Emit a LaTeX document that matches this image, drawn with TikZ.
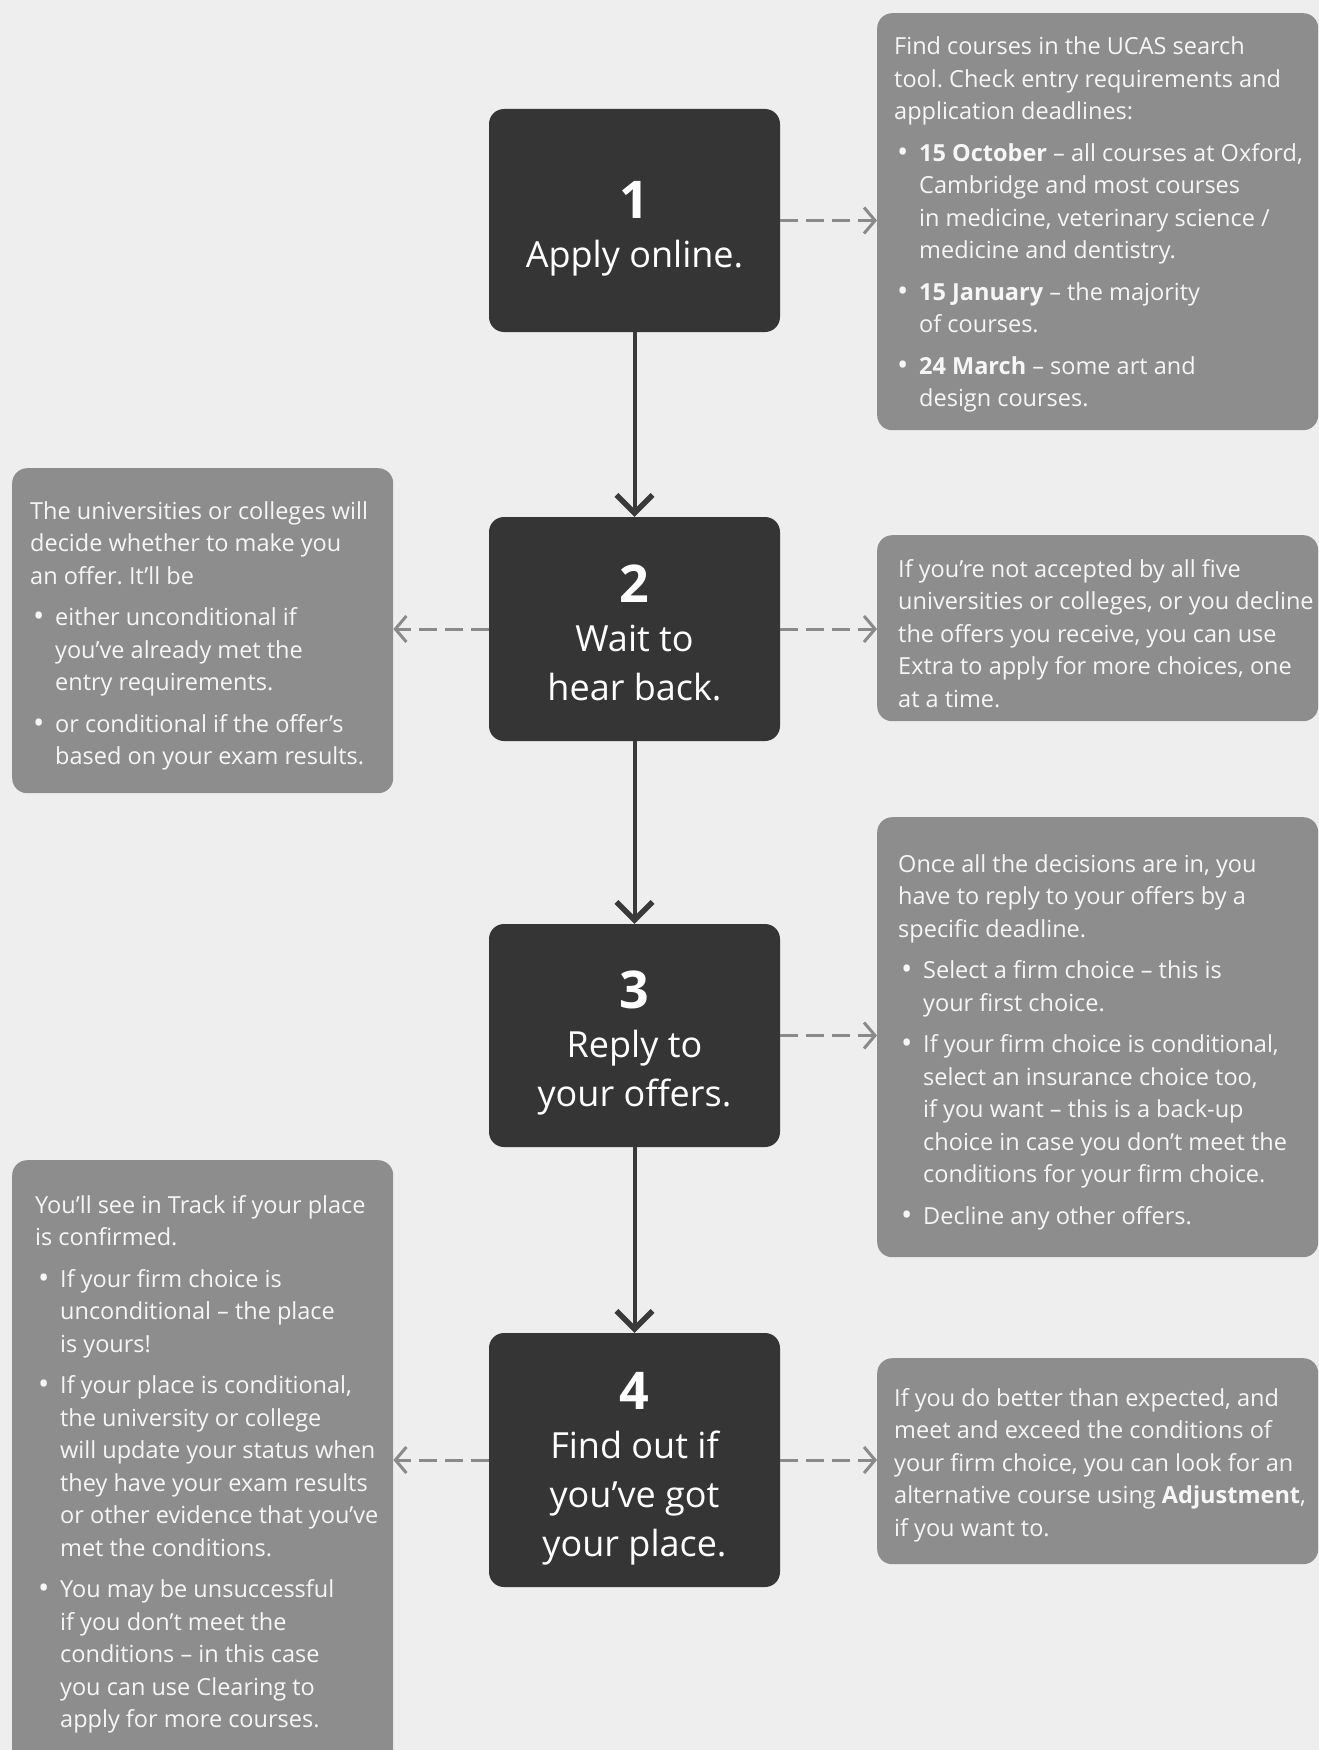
\documentclass[tikz,border=0pt]{standalone}
\usepackage{fontspec}
\setmainfont{Open Sans}
\usetikzlibrary{arrows.meta}
\definecolor{bgc}{HTML}{EEEEEE}
\definecolor{darkc}{HTML}{353535}
\definecolor{gboxc}{HTML}{8D8D8D}
\definecolor{dashc}{HTML}{8A8A8A}
\definecolor{vlinec}{HTML}{3A3A3A}
\definecolor{txtc}{HTML}{F6F6F6}
\frenchspacing
\newcommand\bl{\makebox[25pt][l]{\hspace{3pt}\raisebox{-1pt}{\fontsize{30}{30}\selectfont •}}}
\newcommand\ci{\hspace*{25pt}}
\newcommand\gtext[2]{\begin{minipage}[t]{#1}\fontsize{23.5}{32.5}\selectfont\raggedright\frenchspacing #2\end{minipage}}
\tikzset{
 darkbox/.style={fill=darkc, rounded corners=15pt, minimum width=291pt, inner sep=0pt},
 steptext/.style={text=white, align=center, inner sep=0pt, font=\fontsize{36}{49}\selectfont, text depth=0pt},
 graybox/.style={fill=gboxc, rounded corners=15pt, anchor=north west, inner sep=0pt},
 graytext/.style={anchor=base west, inner sep=0pt, text=txtc},
 dasharrow/.style={draw=dashc, line width=3pt, dash pattern=on 18pt off 8pt, -{Straight Barb[length=11pt,width=26pt,line width=3pt]}},
 flowarrow/.style={draw=vlinec, line width=4pt, -{Straight Barb[length=18pt,width=36pt,line width=5.5pt]}},
}
\begin{document}
\begin{tikzpicture}[x=1pt,y=-1pt]
\clip (0,0) rectangle (1319,1750);
\fill[bgc] (0,0) rectangle (1319,1750);

% side boxes
\node[graybox, minimum width=441pt, minimum height=417pt] (r1) at (877,13) {};
\node[graybox, minimum width=441pt, minimum height=186pt] (r2) at (877,535) {};
\node[graybox, minimum width=441pt, minimum height=440pt] (r3) at (877,817) {};
\node[graybox, minimum width=441pt, minimum height=206pt] (r4) at (877,1358) {};
\node[graybox, minimum width=381pt, minimum height=325pt] (l1) at (12,468) {};
\node[graybox, minimum width=381pt, minimum height=620pt] (l2) at (12,1160) {};

% steps
\node[darkbox, minimum height=223pt] (b1) at (634.5,220.5) {};
\node[darkbox, minimum height=224pt] (b2) at (634.5,629) {};
\node[darkbox, minimum height=223pt] (b3) at (634.5,1035.5) {};
\node[darkbox, minimum height=254pt] (b4) at (634.5,1460) {};
\node[steptext] (b1t) at ([yshift=-4pt]b1.center) {{\fontsize{52}{49}\selectfont\bfseries 1}\\Apply online.};
\node[steptext] (b2t) at ([yshift=-3.5pt]b2.center) {{\fontsize{52}{49}\selectfont\bfseries 2}\\Wait to\\hear back.};
\node[steptext] (b3t) at ([yshift=-3.5pt]b3.center) {{\fontsize{52}{49}\selectfont\bfseries 3}\\Reply to\\your offers.};
\node[steptext] (b4t) at ([yshift=-4pt]b4.center) {{\fontsize{52}{49}\selectfont\bfseries 4}\\Find out if\\you’ve got\\your place.};

% connectors
\draw[flowarrow] (b1.south) -- (b2.north);
\draw[flowarrow] (b2.south) -- (b3.north);
\draw[flowarrow] (b3.south) -- (b4.north);
\draw[dasharrow] (b1.east) -- (b1.east -| r1.west);
\draw[dasharrow] (b2.east) -- (b2.east -| r2.west);
\draw[dasharrow] (b3.east) -- (b3.east -| r3.west);
\draw[dasharrow] (b4.east) -- (b4.east -| r4.west);
\draw[dasharrow] (b2.west) -- (b2.west -| l1.east);
\draw[dasharrow] (b4.west) -- (b4.west -| l2.east);

% texts
\node[graytext] (t1) at (894,55) {\gtext{430pt}{Find courses in the UCAS search\\
tool. Check entry requirements and\\
application deadlines:\\[9pt]
\bl\textbf{15 October} – all courses at Oxford,\\
\ci Cambridge and most courses\\
\ci in medicine, veterinary science /\\
\ci medicine and dentistry.\\[9pt]
\bl\textbf{15 January} – the majority\\
\ci of courses.\\[9pt]
\bl\textbf{24 March} – some art and\\
\ci design courses.}};

\node[graytext] (t2) at (898,577) {\gtext{430pt}{If you're not accepted by all five\\
universities or colleges, or you decline\\
the offers you receive, you can use\\
Extra to apply for more choices, one\\
at a time.}};

\node[graytext] (t3) at (898,872) {\gtext{430pt}{Once all the decisions are in, you\\
have to reply to your offers by a\\
specific deadline.\\[9pt]
\bl Select a firm choice – this is\\
\ci your first choice.\\[9pt]
\bl If your firm choice is conditional,\\
\ci select an insurance choice too,\\
\ci if you want – this is a back-up\\
\ci choice in case you don't meet the\\
\ci conditions for your firm choice.\\[9pt]
\bl Decline any other offers.}};

\node[graytext] (t4) at (894,1406) {\gtext{430pt}{If you do better than expected, and\\
meet and exceed the conditions of\\
your firm choice, you can look for an\\
alternative course using \textbf{Adjustment},\\
if you want to.}};

\node[graytext] (t5) at (30,519) {\gtext{370pt}{The universities or colleges will\\
decide whether to make you\\
an offer. It'll be\\[9pt]
\bl either unconditional if\\
\ci you've already met the\\
\ci entry requirements.\\[9pt]
\bl or conditional if the offer's\\
\ci based on your exam results.}};

\node[graytext] (t6) at (35,1213) {\gtext{370pt}{You'll see in Track if your place\\
is confirmed.\\[9pt]
\bl If your firm choice is\\
\ci unconditional – the place\\
\ci is yours!\\[9pt]
\bl If your place is conditional,\\
\ci the university or college\\
\ci will update your status when\\
\ci they have your exam results\\
\ci or other evidence that you’ve\\
\ci met the conditions.\\[9pt]
\bl You may be unsuccessful\\
\ci if you don’t meet the\\
\ci conditions – in this case\\
\ci you can use Clearing to\\
\ci apply for more courses.}};
\end{tikzpicture}
\end{document}
